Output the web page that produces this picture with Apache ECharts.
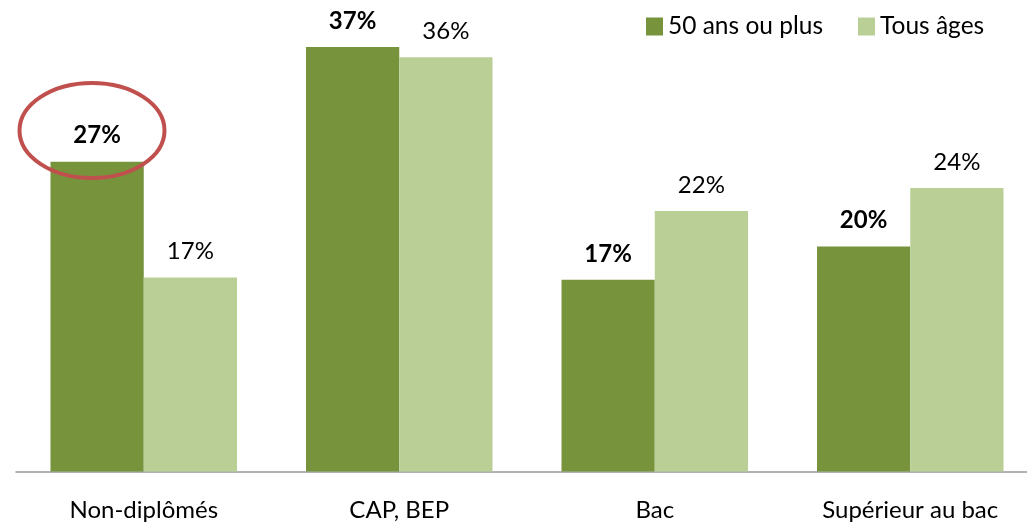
<!DOCTYPE html>
<html>
<head>
    <meta charset="UTF-8">
    <title>Diplômes</title>
    <script type="text/javascript" src="https://cdn.jsdelivr.net/npm/echarts@6/dist/echarts.min.js"></script>
</head>
<body style="margin:0;">
    <div id="chart" style="width:1027px; height:524px;"></div>
    <script>
        // données
        var categories = ['Non-diplômés', 'CAP, BEP', 'Bac', 'Supérieur au bac'];
        var seriesNames = ['50 ans ou plus', 'Tous âges'];
        var senior = [27.0, 37.0, 16.7, 19.6];
        var tous = [16.9, 36.1, 22.7, 24.7];
        var seniorLabels = ['27%', '37%', '17%', '20%'];
        var tousLabels = ['17%', '36%', '22%', '24%'];

        var font = 'Lato, "Open Sans", sans-serif';
        var chart = echarts.init(document.getElementById('chart'), null, {renderer: 'canvas'});

        var option = {
            animation: false,
            textStyle: {fontFamily: font},
            legend: {
                data: seriesNames,
                top: 9,
                left: 641,
                itemWidth: 17,
                itemHeight: 18,
                itemGap: 35,
                icon: 'rect',
                textStyle: {fontSize: 24.5, color: '#000', fontFamily: font}
            },
            grid: {left: 16, top: 12.5, width: 1022, bottom: 52.5, outerBoundsMode: 'none', containLabel: false},
            xAxis: {
                type: 'category',
                data: categories,
                axisTick: {show: false},
                axisLine: {lineStyle: {color: '#999', width: 1.5}},
                axisLabel: {fontSize: 24, color: '#000', margin: 27, fontFamily: font}
            },
            yAxis: {
                type: 'value',
                min: 0,
                max: 40,
                show: false,
                splitLine: {show: false}
            },
            series: [
                {
                    name: seriesNames[0],
                    type: 'bar',
                    data: senior,
                    barGap: '0%',
                    barCategoryGap: '27%',
                    itemStyle: {color: '#77933c'},
                    label: {
                        show: true, position: 'top', distance: 14,
                        fontSize: 24, fontWeight: 'bold', color: '#000', fontFamily: font,
                        formatter: function (p) { return seniorLabels[p.dataIndex]; }
                    }
                },
                {
                    name: seriesNames[1],
                    type: 'bar',
                    data: tous,
                    itemStyle: {color: '#b9cf96'},
                    label: {
                        show: true, position: 'top', distance: 14,
                        fontSize: 24, color: '#000', fontFamily: font,
                        formatter: function (p) { return tousLabels[p.dataIndex]; }
                    }
                }
            ],
            graphic: [{
                type: 'ellipse',
                shape: {cx: 92, cy: 130.5, rx: 72.5, ry: 47.5},
                style: {fill: 'none', stroke: '#c0504d', lineWidth: 4},
                z: 100
            }]
        };
        chart.setOption(option);
    </script>
</body>
</html>
